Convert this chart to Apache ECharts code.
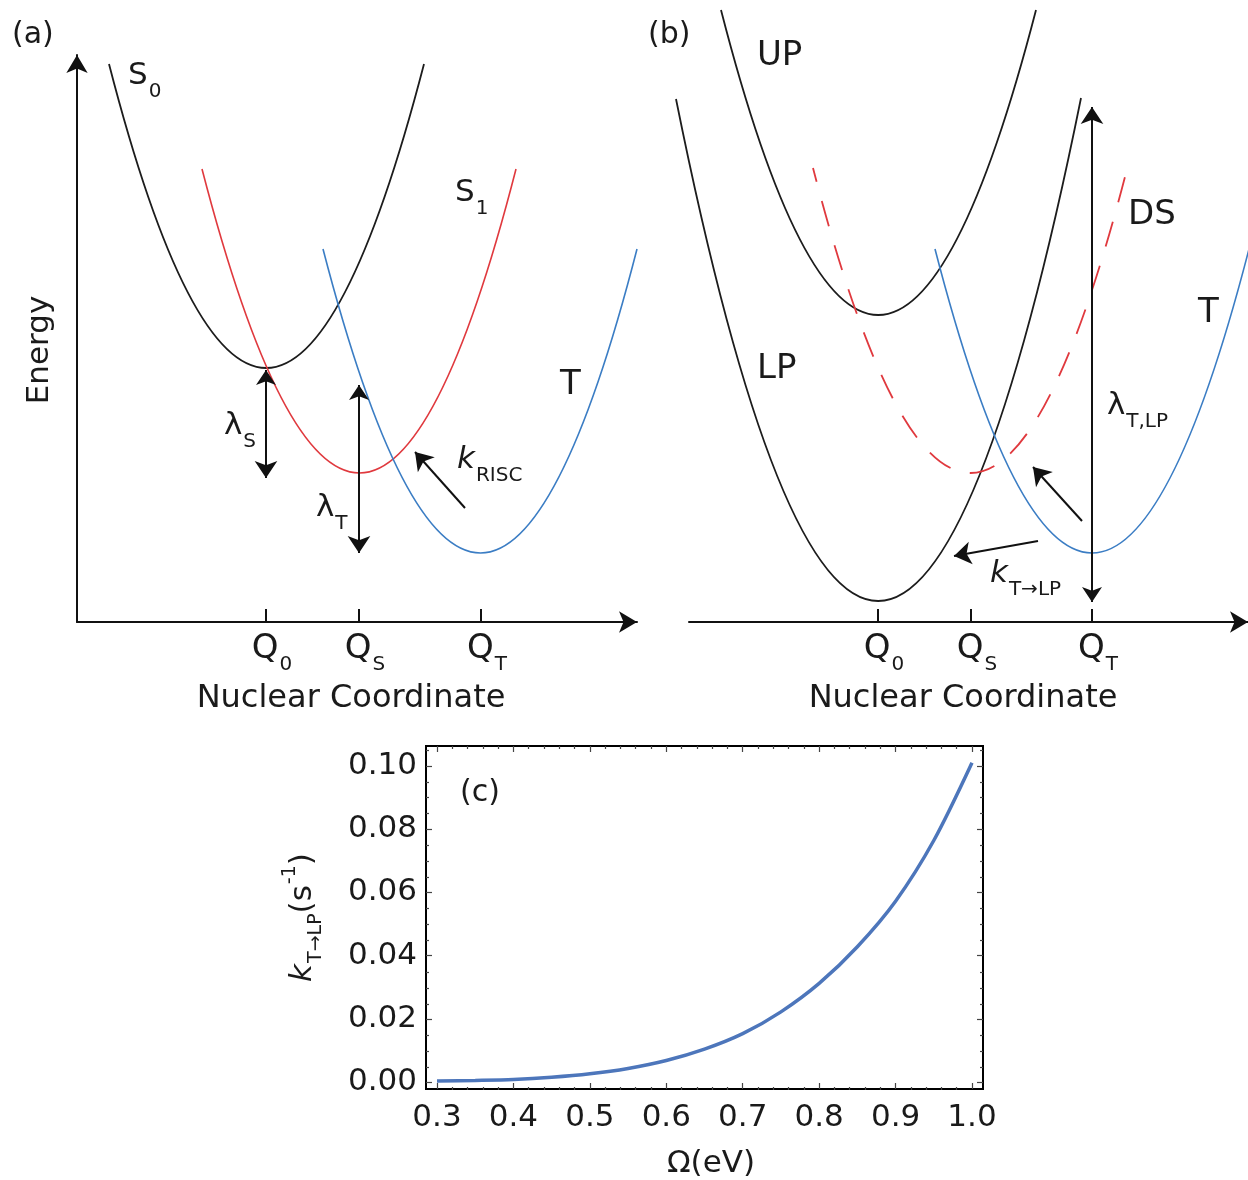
<!DOCTYPE html>
<html>
<head>
<meta charset="utf-8">
<script src="https://cdn.jsdelivr.net/npm/echarts@6/dist/echarts.min.js"></script>
<style>
html, body { margin: 0; padding: 0; background: #fff; }
#main { width: 1248px; height: 1180px; }
</style>
</head>
<body>
<div id="main"></div>
<script>
const FONT = 'DejaVu Sans';
const INK = '#1a1a1a';

// ---- panels (a) and (b): potential energy curves, arbitrary units ----
const qTicksA = [18.9, 28.2, 40.4];
const qTicksB = [18.9, 28.2, 40.3];
const qSubs = ['0', 'S', 'T'];

// each curve: [left end x, y, minimum x, y, right end x, y]
const curveS0 = [3.2, 55.8, 18.9, 25.4, 34.7, 55.8];
const curveS1 = [12.5, 45.3, 28.3, 14.9, 43.9, 45.3];
const curveTa = [24.6, 37.3, 40.4, 6.9, 56.0, 37.3];

const curveUP = [3.2, 61.2, 18.9, 30.7, 34.7, 61.2];
const curveLP = [-1.3, 52.3, 18.9, 2.1, 39.2, 52.4];
const curveDS = [12.4, 45.4, 28.2, 14.9, 43.8, 45.3];
const curveTb = [24.6, 37.3, 40.3, 6.9, 56.0, 37.3];

// arrows: [from, to], arrow head at "to"
const doubleArrowsA = [[[18.9,25.2],[18.9,14.4]], [[28.2,23.7],[28.2,6.9]]];
const singleArrowsA = [[[38.8,11.4],[33.8,17.0]]];
const doubleArrowsB = [[[40.3,2.0],[40.3,51.5]]];
const singleArrowsB = [[[39.3,10.1],[34.4,15.5]], [[34.9,8.1],[26.5,6.6]]];

// text annotations: [rich text, x, y]
const labelsA = [
  ['{m|S}{s|0}', 5.1, 56.1],
  ['{m|S}{s|1}', 37.8, 44.4],
  ['{b|T}', 48.3, 25.4],
  ['{m|λ}{s|S}', 14.7, 21.1],
  ['{m|λ}{s|T}', 23.9, 12.9],
  ['{i|k}{s|RISC}', 38.0, 17.7]
];
const labelsB = [
  ['{b|UP}', 6.8, 58.3],
  ['{b|LP}', 6.8, 27.0],
  ['{b|DS}', 43.9, 42.4],
  ['{b|T}', 50.9, 32.6],
  ['{m|λ}{s|T,LP}', 41.8, 23.1],
  ['{i|k}{s|T→LP}', 30.1, 6.3]
];

// ---- panel (c): rate vs Omega ----
const omega = [0.30, 0.35, 0.40, 0.45, 0.50, 0.55, 0.60, 0.65, 0.70, 0.75, 0.80, 0.85, 0.90, 0.95, 1.00];
const kRate = [0.0003, 0.0005, 0.0008, 0.0015, 0.0026, 0.0043, 0.0068, 0.0104, 0.0153, 0.0222, 0.0312, 0.0428, 0.0572, 0.0764, 0.1010];
const omegaTicks = [0.3, 0.4, 0.5, 0.6, 0.7, 0.8, 0.9, 1.0];
const rateTicks = [0, 0.02, 0.04, 0.06, 0.08, 0.10];

const omegaMinor = [];
for (let i = 15; i <= 50; i++) if (i % 5) omegaMinor.push(i / 50);
const rateMinor = [];
for (let i = 1; i <= 21; i++) if (i % 4) rateMinor.push(i / 200);

const rich = {
  m: { fontFamily: FONT, fontSize: 31, color: INK, verticalAlign: 'top' },
  b: { fontFamily: FONT, fontSize: 34, color: INK, verticalAlign: 'top' },
  i: { fontFamily: FONT, fontSize: 31, color: INK, fontStyle: 'italic', verticalAlign: 'top' },
  s: { fontFamily: FONT, fontSize: 20, color: INK, verticalAlign: 'top', padding: [21, 0, 0, 1] }
};
const qRich = {
  q: { fontFamily: FONT, fontSize: 34, color: INK, verticalAlign: 'top', padding: [0, 0, 0, 12] },
  s: { fontFamily: FONT, fontSize: 20, color: INK, verticalAlign: 'top', padding: [23, 0, 0, 1] }
};

const qFormatter = ticks => v => {
  const i = ticks.findIndex(q => Math.abs(q - v) < 1e-6);
  return '{q|Q}{s|' + qSubs[i] + '}';
};

const arrowLine = { color: '#111', width: 2 };

function energyXAxis(grid, max, ticks, padRight) {
  return {
    gridIndex: grid, type: 'value', min: 0, max: max,
    axisLine: { show: true, onZero: false, symbol: ['none', 'arrow'], symbolSize: [16, 18], lineStyle: arrowLine },
    axisTick: { show: true, inside: true, length: 13, customValues: ticks, lineStyle: arrowLine },
    axisLabel: { show: true, customValues: ticks, formatter: qFormatter(ticks), margin: 10, rich: qRich },
    splitLine: { show: false },
    name: 'Nuclear Coordinate', nameLocation: 'middle', nameGap: 61,
    nameTextStyle: { fontFamily: FONT, fontSize: 32, color: INK, padding: [0, padRight, 0, 0] }
  };
}

function frameAxis(kind, grid, pos, min, max, values, len, labels) {
  const ax = {
    gridIndex: grid, type: 'value', position: pos, min: min, max: max,
    axisLine: { show: false, onZero: false },
    axisTick: { show: true, inside: true, length: len, customValues: values, lineStyle: { color: '#444', width: 1.2 } },
    axisLabel: { show: false },
    splitLine: { show: false }
  };
  if (labels) {
    ax.axisLabel = {
      show: true, customValues: values, fontFamily: FONT, fontSize: 31, color: INK,
      margin: kind === 'x' ? 13 : 9,
      formatter: v => kind === 'x' ? v.toFixed(1) : v.toFixed(2)
    };
  }
  return ax;
}

const xMin = 0.2856, xMax = 1.0144, yMin = -0.0022, yMax = 0.1063;

const xAxes = [
  energyXAxis(0, 56, qTicksA, 12),
  energyXAxis(1, 55.9, qTicksB, 11),
  Object.assign(frameAxis('x', 2, 'bottom', xMin, xMax, omegaTicks, 6, true), {
    name: 'Ω(eV)', nameLocation: 'middle', nameGap: 59,
    nameTextStyle: { fontFamily: FONT, fontSize: 31, color: INK, padding: [0, 0, 0, 13] }
  }),
  frameAxis('x', 2, 'top', xMin, xMax, omegaTicks, 6, false),
  frameAxis('x', 3, 'bottom', xMin, xMax, omegaMinor, 3, false),
  frameAxis('x', 3, 'top', xMin, xMax, omegaMinor, 3, false)
];

const yAxes = [
  {
    gridIndex: 0, type: 'value', min: 0, max: 56.7,
    axisLine: { show: true, onZero: false, symbol: ['none', 'arrow'], symbolSize: [16, 18], lineStyle: arrowLine },
    axisTick: { show: false }, axisLabel: { show: false }, splitLine: { show: false },
    name: 'Energy', nameLocation: 'middle', nameGap: 22,
    nameTextStyle: { fontFamily: FONT, fontSize: 31, color: INK, padding: [0, 23, 0, 0] }
  },
  { gridIndex: 1, type: 'value', min: 0, max: 56.7, show: false },
  Object.assign(frameAxis('y', 2, 'left', yMin, yMax, rateTicks, 6, true), {
    name: '{i|k}{s|T→LP}{n|(s}{p|-1}{n|)}', nameLocation: 'middle', nameGap: 100,
    nameTextStyle: {
      rich: {
        i: { fontFamily: FONT, fontSize: 31, color: INK, fontStyle: 'italic', verticalAlign: 'top', padding: [6, 0, 0, 0] },
        n: { fontFamily: FONT, fontSize: 31, color: INK, verticalAlign: 'top', padding: [6, 0, 0, 0] },
        s: { fontFamily: FONT, fontSize: 19, color: INK, verticalAlign: 'top', padding: [26, 0, 0, 1] },
        p: { fontFamily: FONT, fontSize: 19, color: INK, verticalAlign: 'top', padding: [0, 0, 0, 1] }
      }
    }
  }),
  frameAxis('y', 2, 'right', yMin, yMax, rateTicks, 6, false),
  frameAxis('y', 3, 'left', yMin, yMax, rateMinor, 3, false),
  frameAxis('y', 3, 'right', yMin, yMax, rateMinor, 3, false)
];

// a parabola through the read end points with its minimum at the read vertex
function parabola(ends, axis, color, width, dash) {
  return {
    type: 'custom', xAxisIndex: axis, yAxisIndex: axis, clip: false, silent: true,
    data: [ends],
    renderItem: (params, api) => {
      const p0 = api.coord([api.value(0), api.value(1)]);
      const pv = api.coord([api.value(2), api.value(3)]);
      const p2 = api.coord([api.value(4), api.value(5)]);
      return {
        type: 'bezierCurve',
        shape: { x1: p0[0], y1: p0[1], x2: p2[0], y2: p2[1], cpx1: pv[0], cpy1: 2 * pv[1] - (p0[1] + p2[1]) / 2 },
        style: { stroke: color, lineWidth: width, fill: null, lineDash: dash || null, lineDashOffset: 12 }
      };
    }
  };
}

function arrows(list, axis, both) {
  return {
    type: 'lines', coordinateSystem: 'cartesian2d', xAxisIndex: axis, yAxisIndex: axis,
    symbol: [both ? 'arrow' : 'none', 'arrow'], symbolSize: [15, 17],
    lineStyle: { color: '#111', width: 2, opacity: 1 }, silent: true,
    data: list.map(c => ({ coords: c }))
  };
}

function labels(list, axis) {
  return {
    type: 'scatter', xAxisIndex: axis, yAxisIndex: axis, symbolSize: 0.1, clip: false, silent: true,
    itemStyle: { color: 'rgba(0,0,0,0)', opacity: 1 },
    data: list.map(l => ({ name: l[0], value: [l[1], l[2]] })),
    label: { show: true, opacity: 1, color: INK, position: [0, 0], align: 'left', verticalAlign: 'top', formatter: p => p.name, rich: rich }
  };
}

const BLACK = '#1c1c1c', RED = '#e0393e', BLUE = '#3b7dc4';

const plotC = { left: 426, top: 746, width: 557, height: 344 };

const option = {
  animation: false,
  backgroundColor: '#fff',
  grid: [
    { left: 77, top: 55, width: 560, height: 567 },
    { left: 689, top: 55, width: 559, height: 567 },
    Object.assign({ show: true, borderColor: '#000', borderWidth: 2, backgroundColor: 'transparent' }, plotC),
    Object.assign({}, plotC)
  ],
  xAxis: xAxes,
  yAxis: yAxes,
  graphic: [
    { type: 'text', left: 12, top: 20, style: { text: '(a)', fontFamily: FONT, fontSize: 30, fill: INK } },
    { type: 'text', left: 648, top: 20, style: { text: '(b)', fontFamily: FONT, fontSize: 30, fill: INK } },
    { type: 'text', left: 460, top: 778, style: { text: '(c)', fontFamily: FONT, fontSize: 30, fill: INK } }
  ],
  series: [
    parabola(curveS0, 0, BLACK, 1.8),
    parabola(curveS1, 0, RED, 1.6),
    parabola(curveTa, 0, BLUE, 1.6),
    arrows(doubleArrowsA, 0, true),
    arrows(singleArrowsA, 0, false),
    labels(labelsA, 0),

    parabola(curveUP, 1, BLACK, 1.8),
    parabola(curveLP, 1, BLACK, 1.8),
    parabola(curveDS, 1, RED, 1.8, [26, 20]),
    parabola(curveTb, 1, BLUE, 1.6),
    arrows(doubleArrowsB, 1, true),
    arrows(singleArrowsB, 1, false),
    labels(labelsB, 1),

    {
      type: 'line', xAxisIndex: 2, yAxisIndex: 2,
      data: omega.map((w, i) => [w, kRate[i]]),
      smooth: 0.3, showSymbol: false, silent: true,
      lineStyle: { color: '#4d76bb', width: 3.5 }
    }
  ]
};

const myChart = echarts.init(document.getElementById('main'));
myChart.setOption(option);
</script>
</body>
</html>
